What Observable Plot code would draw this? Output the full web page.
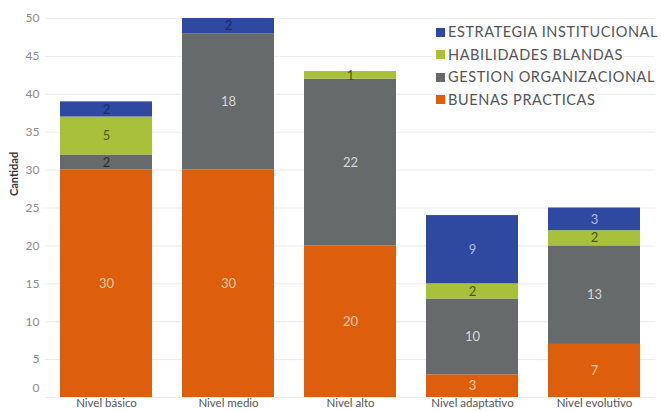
<!DOCTYPE html>
<html><head><meta charset="utf-8">
<script src="https://cdn.jsdelivr.net/npm/d3@7"></script>
<script src="https://cdn.jsdelivr.net/npm/@observablehq/plot@0.6"></script>
<style>
body{margin:0;background:#fff;font-family:Lato,sans-serif}
#wrap{position:relative;width:661px;height:411px}
.legend{position:absolute;left:436px;top:21px;font-size:14.5px;letter-spacing:0.6px;color:#555;line-height:22.5px}
.legend div{display:flex;align-items:center;white-space:nowrap}
.legend span.sw{display:inline-block;width:9px;height:9px;margin-right:3px}
</style></head><body><div id="wrap"></div>
<script>
const categories = ["Nivel básico","Nivel medio","Nivel alto","Nivel adaptativo","Nivel evolutivo"];
const series = ["BUENAS PRACTICAS","GESTION ORGANIZACIONAL","HABILIDADES BLANDAS","ESTRATEGIA INSTITUCIONAL"];
const buenasPracticas = [30,30,20,3,7];
const gestionOrganizacional = [2,18,22,10,13];
const habilidadesBlandas = [5,0,1,2,2];
const estrategiaInstitucional = [2,2,0,9,3];
const yTicks = [0,5,10,15,20,25,30,35,40,45,50];
const colors = ["#dd5f0e","#676a6a","#a9c03b","#2f48a0"];
const labelColorsLight = ["#f7c9a8","#d6d6d6","#4a5a12","#b4b8e6"];
const labelColorsDark = ["#f7c9a8","#2e2e2e","#4a5a12","#1c2a6e"];

const valuesBySeries = [buenasPracticas, gestionOrganizacional, habilidadesBlandas, estrategiaInstitucional];
const data = [];
series.forEach((s, i) => categories.forEach((c, j) => data.push({category: c, series: s, value: valuesBySeries[i][j]})));
const nonZero = data.filter(d => d.value > 0);
const labelColor = d => {
  const i = series.indexOf(d.series);
  return d.value <= 2 ? labelColorsDark[i] : labelColorsLight[i];
};

const plot = Plot.plot({
  width: 661, height: 411,
  marginTop: 18, marginBottom: 14, marginLeft: 45, marginRight: 6,
  style: {fontFamily: "Lato, sans-serif", fontSize: "12px", background: "#fff"},
  x: {domain: categories, paddingInner: 0.25, paddingOuter: 0.125, label: null},
  y: {domain: [0, 50], label: null},
  color: {domain: series, range: colors},
  marks: [
    Plot.gridY(yTicks, {stroke: "#ebebeb", strokeOpacity: 1}),
    Plot.axisY(yTicks.filter(t => t > 0), {tickSize: 0, tickPadding: 6, fill: "#8a8a8a", fontSize: 12, label: null}),
    Plot.axisY([0], {tickSize: 0, tickPadding: 6, fill: "#8a8a8a", fontSize: 12, dy: -9, label: null}),
    Plot.axisX({tickSize: 0, tickPadding: 1, fill: "#555", fontSize: 11.5, label: null}),
    Plot.barY(data, Plot.stackY({x: "category", y: "value", fill: "series", order: series})),
    Plot.text(nonZero, Plot.stackY({x: "category", y: "value", z: "series", order: series, text: "value",
      fill: labelColor, fontSize: 13})),
    Plot.text(["Cantidad"], {frameAnchor: "left", rotate: -90, dx: -31, dy: -12, fontWeight: "bold", fill: "#333", fontSize: 11})
  ]
});
const wrap = document.getElementById("wrap");
wrap.appendChild(plot);
const legend = document.createElement("div");
legend.className = "legend";
series.slice().reverse().forEach(s => {
  const row = document.createElement("div");
  const sw = document.createElement("span");
  sw.className = "sw";
  sw.style.background = colors[series.indexOf(s)];
  row.appendChild(sw);
  row.appendChild(document.createTextNode(s));
  legend.appendChild(row);
});
wrap.appendChild(legend);
</script></body></html>
